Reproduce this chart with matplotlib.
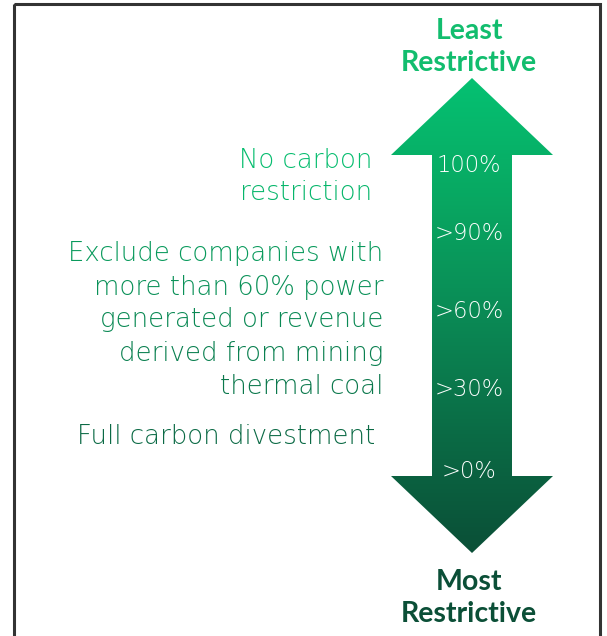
import matplotlib
matplotlib.use("Agg")
import matplotlib.pyplot as plt
import numpy as np
from matplotlib.colors import LinearSegmentedColormap
from matplotlib.patches import Polygon, Rectangle

# scale labels inside the arrow (top = least restrictive)
pct_labels = ["100%", ">90%", ">60%", ">30%", ">0%"]
pct_y = [165, 233, 312, 390, 472]

# descriptions on the left
descriptions = [
    ["No carbon", "restriction"],
    ["Exclude companies with", "more than 60% power", "generated or revenue",
     "derived from mining", "thermal coal"],
    ["Full carbon divestment"],
]
desc_first_y = [160, 254, 437]
desc_right_x = [372, 383, 375]
line_step = 33

top_label = ["Least", "Restrictive"]
bottom_label = ["Most", "Restrictive"]

# colours of the arrow from top to bottom
grad_colors = ["#05c172", "#08a862", "#0a8a55", "#0b6b45", "#0a4f37"]
cmap = LinearSegmentedColormap.from_list("arrow", grad_colors)

W, H = 607, 636
fig = plt.figure(figsize=(W / 100, H / 100), dpi=100)
ax = fig.add_axes([0, 0, 1, 1])
ax.set_xlim(0, W)
ax.set_ylim(H, 0)
ax.axis("off")

light = dict(family=["DejaVu Sans"], weight="light")
bold = dict(family=["Lato", "DejaVu Sans"], weight="bold")

# frame
ax.add_patch(Rectangle((14, 4), 586, 660, fill=False, edgecolor="#333333", lw=2.2))

# double arrow with vertical gradient
cx, y_top, y_bot = 472, 78, 553
head_w, shaft_w, head_h = 81, 40, 77
verts = [
    (cx, y_top), (cx + head_w, y_top + head_h), (cx + shaft_w, y_top + head_h),
    (cx + shaft_w, y_bot - head_h), (cx + head_w, y_bot - head_h), (cx, y_bot),
    (cx - head_w, y_bot - head_h), (cx - shaft_w, y_bot - head_h),
    (cx - shaft_w, y_top + head_h), (cx - head_w, y_top + head_h),
]
arrow = Polygon(verts, closed=True, facecolor="none", edgecolor="none")
ax.add_patch(arrow)
grad = np.linspace(0, 1, 256).reshape(-1, 1)
img = ax.imshow(grad, cmap=cmap, aspect="auto",
                extent=[cx - head_w, cx + head_w, y_bot, y_top], zorder=1)
img.set_clip_path(arrow)


def col_at(y):
    return cmap(np.clip((y - y_top) / (y_bot - y_top), 0, 1))


for lab, y in zip(pct_labels, pct_y):
    ax.text(cx - 3, y, lab, color="white", fontsize=16.3, ha="center",
            va="center", zorder=3, **light)

for lines, y0, xr in zip(descriptions, desc_first_y, desc_right_x):
    for i, line in enumerate(lines):
        y = y0 + i * line_step
        ax.text(xr, y, line, color=col_at(y - 60 if y < 200 else y), fontsize=18.7,
                ha="right", va="center", **light)

ax.text(469, 31, top_label[0], color="#12bd6e", fontsize=20.5, ha="center", va="center", **bold)
ax.text(469, 63, top_label[1], color="#12bd6e", fontsize=20.5, ha="center", va="center", **bold)
ax.text(469, 582, bottom_label[0], color="#0b4f37", fontsize=20.5, ha="center", va="center", **bold)
ax.text(469, 614, bottom_label[1], color="#0b4f37", fontsize=20.5, ha="center", va="center", **bold)

fig.savefig("out.png", dpi=100, facecolor="white")
